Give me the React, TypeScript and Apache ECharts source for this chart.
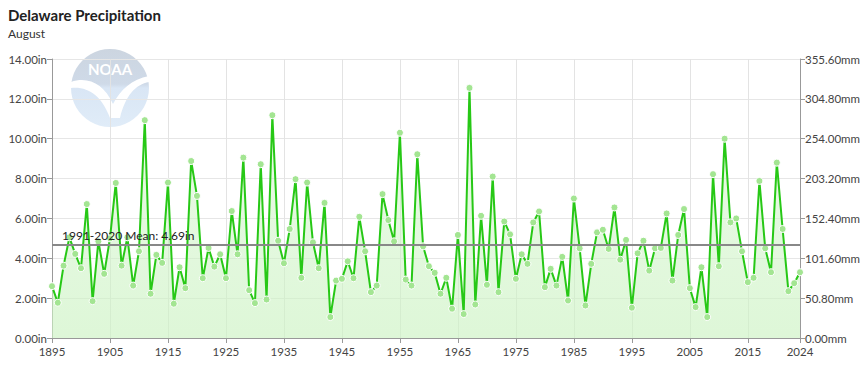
import React, { useEffect, useRef } from "react";
import * as echarts from "echarts";

const FIRST_YEAR = 1895;
const precipIn: number[] = [
  2.6, 1.77, 3.63, 5.05, 4.22, 3.5, 6.72, 1.85, 4.85, 3.22,
  5.0, 7.78, 3.63, 5.05, 2.63, 4.35, 10.93, 2.22, 4.17, 3.77,
  7.8, 1.72, 3.55, 2.5, 8.88, 7.13, 3.0, 4.52, 3.58, 4.2,
  3.0, 6.37, 4.2, 9.05, 2.4, 1.75, 8.72, 1.93, 11.18, 4.88,
  3.75, 5.47, 7.97, 3.02, 7.8, 4.8, 3.5, 6.78, 1.05, 2.88,
  2.97, 3.85, 3.0, 6.08, 4.35, 2.3, 2.63, 7.22, 5.92, 4.85,
  10.3, 2.93, 2.63, 9.22, 4.6, 3.6, 3.27, 2.22, 3.02, 1.47,
  5.17, 1.2, 12.55, 1.68, 6.13, 2.67, 8.1, 2.3, 5.85, 5.2,
  2.97, 4.2, 3.72, 5.8, 6.35, 2.55, 3.47, 2.63, 4.07, 1.88,
  7.0, 4.5, 1.63, 3.72, 5.3, 5.43, 4.47, 6.55, 3.93, 4.92,
  1.52, 4.25, 4.88, 3.38, 4.5, 4.52, 6.25, 2.88, 5.17, 6.47,
  2.5, 1.55, 3.55, 1.05, 8.22, 3.6, 10.0, 5.8, 6.0, 4.35,
  2.8, 3.02, 7.88, 4.5, 3.3, 8.8, 5.47, 2.35, 2.75, 3.3,
];
const years: string[] = precipIn.map((_, i) => String(FIRST_YEAR + i));
const xTickLabels: string[] = [
  "1895", "1905", "1915", "1925", "1935", "1945", "1955",
  "1965", "1975", "1985", "1995", "2005", "2015", "2024",
];
const meanValue: number[] = [4.69];
const meanLabel = "1991-2020 Mean: 4.69in";
const titleText = "Delaware Precipitation";
const subtitleText = "August";

const FONT = "Lato, 'Noto Sans', sans-serif";

let registered = false;
function registerLogo() {
  if (registered) return;
  registered = true;
  const d =
    "M -39 -6 C -22 -12 -6 -4 3 16 C 10 2 22 -9 39 -12 L 39 -6 C 26 -4 15 8 10 30 L 0 30 C -8 8 -22 -2 -39 0 Z";
  echarts.graphic.registerShape("noaaBird", echarts.graphic.extendPath(d, {}) as any);
}

export default function App() {
  const ref = useRef<HTMLDivElement>(null);

  useEffect(() => {
    if (!ref.current) return;
    registerLogo();
    const chart = echarts.init(ref.current, undefined, { renderer: "svg" });
    const showTick = (idx: number) => xTickLabels.indexOf(years[idx]) >= 0;

    chart.setOption({
      animation: false,
      backgroundColor: "#ffffff",
      textStyle: { fontFamily: FONT },
      title: {
        text: titleText,
        subtext: subtitleText,
        left: 8,
        top: 7,
        padding: 0,
        itemGap: 5,
        textStyle: { fontFamily: FONT, fontSize: 15, fontWeight: "bold", color: "#222" },
        subtextStyle: { fontFamily: FONT, fontSize: 12, color: "#333" },
      },
      graphic: [
        {
          type: "circle",
          z: -10,
          shape: { cx: 110, cy: 88, r: 39 },
          style: {
            fill: new echarts.graphic.LinearGradient(0, 0, 0, 1, [
              { offset: 0, color: "#ccd5e0" },
              { offset: 0.45, color: "#cfdae8" },
              { offset: 0.5, color: "#d9e6f5" },
              { offset: 1, color: "#e0ecf8" },
            ]),
          },
        },
        {
          type: "noaaBird",
          z: -9,
          x: 110,
          y: 88,
          style: { fill: "#ffffff" },
        },
        {
          type: "text",
          z: -9,
          x: 110,
          y: 69,
          style: {
            text: "NOAA",
            fill: "#ffffff",
            font: "bold 15px " + FONT,
            align: "center",
            verticalAlign: "middle",
          },
        },
      ],
      grid: { left: 52, right: 64, top: 59, bottom: 36, containLabel: false },
      xAxis: {
        type: "category",
        data: years,
        boundaryGap: false,
        axisLine: { lineStyle: { color: "#999" } },
        axisTick: { interval: (i: number) => showTick(i), length: 5, lineStyle: { color: "#999" } },
        axisLabel: {
          interval: (i: number) => showTick(i),
          color: "#444",
          fontSize: 11.5,
          fontFamily: FONT,
          margin: 7,
        },
        splitLine: { show: true, interval: (i: number) => showTick(i), lineStyle: { color: "#e3e3e3" } },
      },
      yAxis: [
        {
          type: "value",
          min: 0,
          max: 14,
          interval: 2,
          position: "left",
          axisLine: { show: true, lineStyle: { color: "#999" } },
          axisTick: { show: true, length: 5, lineStyle: { color: "#999" } },
          axisLabel: {
            formatter: (v: number) => v.toFixed(2) + "in",
            color: "#444",
            fontSize: 11.5,
            fontFamily: FONT,
            margin: 5,
          },
          splitLine: { show: true, lineStyle: { color: "#e6e6e6" } },
        },
        {
          type: "value",
          min: 0,
          max: 355.6,
          interval: 50.8,
          position: "right",
          axisLine: { show: true, lineStyle: { color: "#999" } },
          axisTick: { show: true, length: 5, lineStyle: { color: "#999" } },
          axisLabel: {
            formatter: (v: number) => v.toFixed(2) + "mm",
            color: "#444",
            fontSize: 11.5,
            fontFamily: FONT,
            margin: 5,
          },
          splitLine: { show: false },
        },
      ],
      series: [
        {
          type: "line",
          data: precipIn,
          yAxisIndex: 0,
          symbol: "circle",
          symbolSize: 7,
          showAllSymbol: true,
          lineStyle: { color: "#27c816", width: 2 },
          itemStyle: { color: "#a3e592", borderColor: "#ffffff", borderWidth: 1 },
          areaStyle: {
            color: new echarts.graphic.LinearGradient(0, 0, 0, 1, [
              { offset: 0, color: "rgba(205,243,196,0.55)" },
              { offset: 1, color: "rgba(205,243,196,0.95)" },
            ]),
          },
          markLine: {
            silent: true,
            symbol: "none",
            data: meanValue.map((v) => ({ yAxis: v })),
            lineStyle: { color: "#888", width: 2, type: "solid" },
            label: {
              show: true,
              position: "insideStartTop",
              formatter: meanLabel,
              color: "#222",
              fontSize: 12,
              fontFamily: FONT,
              distance: [10, 3],
            },
          },
        },
        {
          type: "line",
          yAxisIndex: 1,
          data: [],
        },
      ],
    });
    return () => chart.dispose();
  }, []);

  return (
    <div
      ref={ref}
      style={{ position: "fixed", left: 0, top: 0, width: 864, height: 374 }}
    />
  );
}
